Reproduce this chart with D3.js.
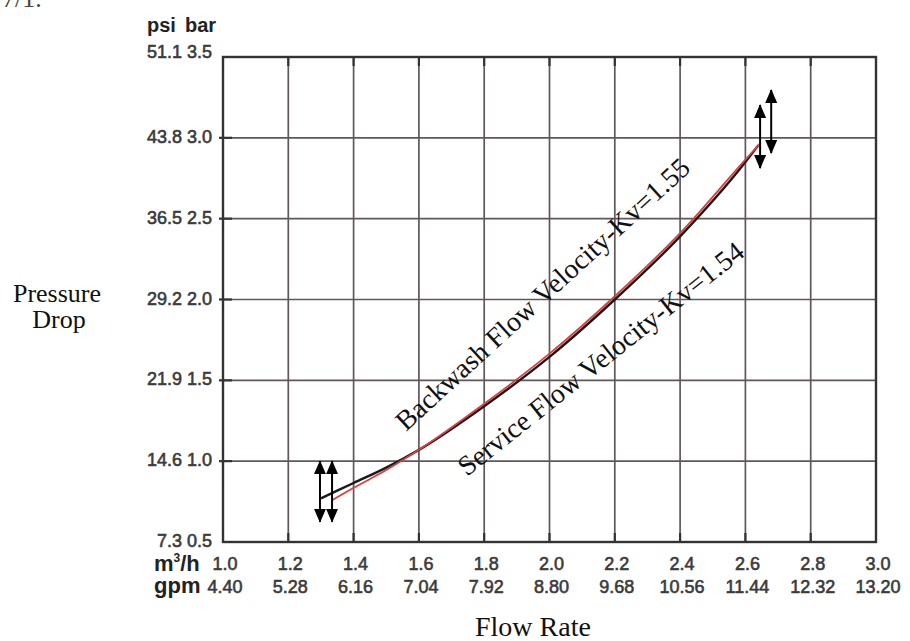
<!DOCTYPE html>
<html><head><meta charset="utf-8">
<script src="https://cdn.jsdelivr.net/npm/d3@7/dist/d3.min.js"></script>
<style>body{margin:0;background:#fff}svg{display:block}</style>
</head><body><svg id="c" width="910" height="641"></svg>
<script>
// m³/h ticks and matching gpm labels
const flowTicks = [1.0,1.2,1.4,1.6,1.8,2.0,2.2,2.4,2.6,2.8,3.0];
const gpmLabels = ["4.40","5.28","6.16","7.04","7.92","8.80","9.68","10.56","11.44","12.32","13.20"];
// bar ticks and matching psi labels
const barTicks = [0.5,1.0,1.5,2.0,2.5,3.0,3.5];
const psiLabels = ["7.3","14.6","21.9","29.2","36.5","43.8","51.1"];
// curves [m³/h, bar]
const backwash = [[1.30,0.77],[1.40,0.865],[1.50,0.96],[1.60,1.07],[1.80,1.34],[2.00,1.645],[2.20,2.00],[2.40,2.39],[2.60,2.85],[2.64,2.955]];
const service  = [[1.335,0.76],[1.40,0.835],[1.50,0.945],[1.60,1.07],[1.80,1.355],[2.00,1.665],[2.20,2.02],[2.40,2.41],[2.60,2.865],[2.645,2.965]];
// range arrows [m³/h, bar from, bar to]
const arrows = [[1.297,0.625,1.0],[1.334,0.625,1.0],[2.645,2.813,3.203],[2.679,2.906,3.296]];

const svg = d3.select("#c");
const x = d3.scaleLinear().domain([1,3]).range([223,876]);
const y = d3.scaleLinear().domain([0.5,3.5]).range([542,57]);
const sans = "'Liberation Sans', Arial, sans-serif";
const serif = "'Liberation Serif', 'Times New Roman', serif";

// stray text from source page (cut at the top edge, as in the source)
svg.append("text").attr("x",2).attr("y",7).attr("font-family",serif).attr("font-size",26).attr("fill","#444").text("7/1.");

// grid
const g = svg.append("g");
g.selectAll(".vg").data(flowTicks.slice(1,-1)).join("line")
 .attr("x1",d=>x(d)).attr("x2",d=>x(d)).attr("y1",y(3.5)).attr("y2",y(0.5))
 .attr("stroke","#5f5759").attr("stroke-width",1.7);
g.selectAll(".hg").data(barTicks.slice(1,-1)).join("line")
 .attr("y1",d=>y(d)).attr("y2",d=>y(d)).attr("x1",x(1)).attr("x2",x(3))
 .attr("stroke","#5f5759").attr("stroke-width",1.7);
// ticks
g.selectAll(".bt").data(flowTicks.slice(1,-1)).join("line")
 .attr("x1",d=>x(d)).attr("x2",d=>x(d)).attr("y1",y(0.5)).attr("y2",y(0.5)-9)
 .attr("stroke","#333").attr("stroke-width",2.2);
g.selectAll(".tt").data(flowTicks.slice(1,-1)).join("line")
 .attr("x1",d=>x(d)).attr("x2",d=>x(d)).attr("y1",y(3.5)).attr("y2",y(3.5)+9)
 .attr("stroke","#333").attr("stroke-width",2.2);
g.selectAll(".lt").data(barTicks.slice(1,-1)).join("line")
 .attr("y1",d=>y(d)).attr("y2",d=>y(d)).attr("x1",x(1)-4).attr("x2",x(1)+9)
 .attr("stroke","#333").attr("stroke-width",2.2);
// frame
g.append("rect").attr("x",x(1)).attr("y",y(3.5)).attr("width",x(3)-x(1)).attr("height",y(0.5)-y(3.5))
 .attr("fill","none").attr("stroke","#333").attr("stroke-width",2.4);

// left labels
svg.append("text").attr("x",147).attr("y",32).attr("font-family",sans).attr("font-weight","bold").attr("font-size",20).attr("fill","#222").text("psi");
svg.append("text").attr("x",185).attr("y",32).attr("font-family",sans).attr("font-weight","bold").attr("font-size",20).attr("fill","#222").text("bar");
svg.selectAll(".yl").data(barTicks).join("text")
 .attr("x",212).attr("y",(d,i)=>y(d)+(i===barTicks.length-1?1:5))
 .attr("text-anchor","end").attr("font-family",sans).attr("font-size",18).attr("fill","#3b3b3b")
 .attr("stroke","#3b3b3b").attr("stroke-width",0.6)
 .text((d,i)=>psiLabels[i]+" "+d3.format(".1f")(d));

// bottom labels
const ml = svg.append("text").attr("x",154).attr("y",571).attr("font-family",sans).attr("font-weight","bold").attr("font-size",22).attr("fill","#222");
ml.append("tspan").text("m");
ml.append("tspan").attr("font-size",12).attr("dy",-9).text("3");
ml.append("tspan").attr("dy",9).text("/h");
svg.append("text").attr("x",154).attr("y",593).attr("font-family",sans).attr("font-weight","bold").attr("font-size",22).attr("fill","#222").text("gpm");
svg.selectAll(".xl").data(flowTicks).join("text")
 .attr("x",d=>x(d)+2).attr("y",570).attr("text-anchor","middle").attr("font-family",sans).attr("font-size",18)
 .attr("fill","#3b3b3b").attr("stroke","#3b3b3b").attr("stroke-width",0.6).text(d=>d3.format(".1f")(d));
svg.selectAll(".gl").data(flowTicks).join("text")
 .attr("x",d=>x(d)+2).attr("y",593).attr("text-anchor","middle").attr("font-family",sans).attr("font-size",18)
 .attr("fill","#3b3b3b").attr("stroke","#3b3b3b").attr("stroke-width",0.6).text((d,i)=>gpmLabels[i]);

// titles
svg.append("text").attr("x",57).attr("y",302).attr("text-anchor","middle").attr("font-family",serif).attr("font-size",26).attr("fill","#111").text("Pressure");
svg.append("text").attr("x",59).attr("y",328).attr("text-anchor","middle").attr("font-family",serif).attr("font-size",26).attr("fill","#111").text("Drop");
svg.append("text").attr("x",475).attr("y",636).attr("font-family",serif).attr("font-size",28).attr("fill","#111").text("Flow Rate");

// curves
const line = d3.line().x(d=>x(d[0])).y(d=>y(d[1])).curve(d3.curveMonotoneX);
svg.append("path").attr("d",line(backwash)).attr("fill","none").attr("stroke","#1a1a1a").attr("stroke-width",2.4);
svg.append("path").attr("d",line(service)).attr("fill","none").attr("stroke","#d9403f").attr("stroke-width",1.8);

// arrows
const defs = svg.append("defs");
defs.append("marker").attr("id","ah").attr("viewBox","0 0 14 12").attr("refX",13).attr("refY",6)
 .attr("markerWidth",14).attr("markerHeight",12).attr("markerUnits","userSpaceOnUse").attr("orient","auto-start-reverse")
 .append("path").attr("d","M0,0 L14,6 L0,12 Z").attr("fill","#000");
svg.selectAll(".ar").data(arrows).join("line")
 .attr("x1",d=>x(d[0])).attr("x2",d=>x(d[0])).attr("y1",d=>y(d[1])).attr("y2",d=>y(d[2]))
 .attr("stroke","#000").attr("stroke-width",2).attr("marker-start","url(#ah)").attr("marker-end","url(#ah)");

// curve labels
svg.append("text").attr("transform","translate(406,432) rotate(-42.5)").attr("font-family",serif).attr("font-size",28).attr("fill","#111").text("Backwash Flow Velocity-Kv=1.55");
svg.append("text").attr("transform","translate(467,477) rotate(-38.5)").attr("font-family",serif).attr("font-size",28).attr("fill","#111").text("Service Flow Velocity-Kv=1.54");
</script></body></html>
